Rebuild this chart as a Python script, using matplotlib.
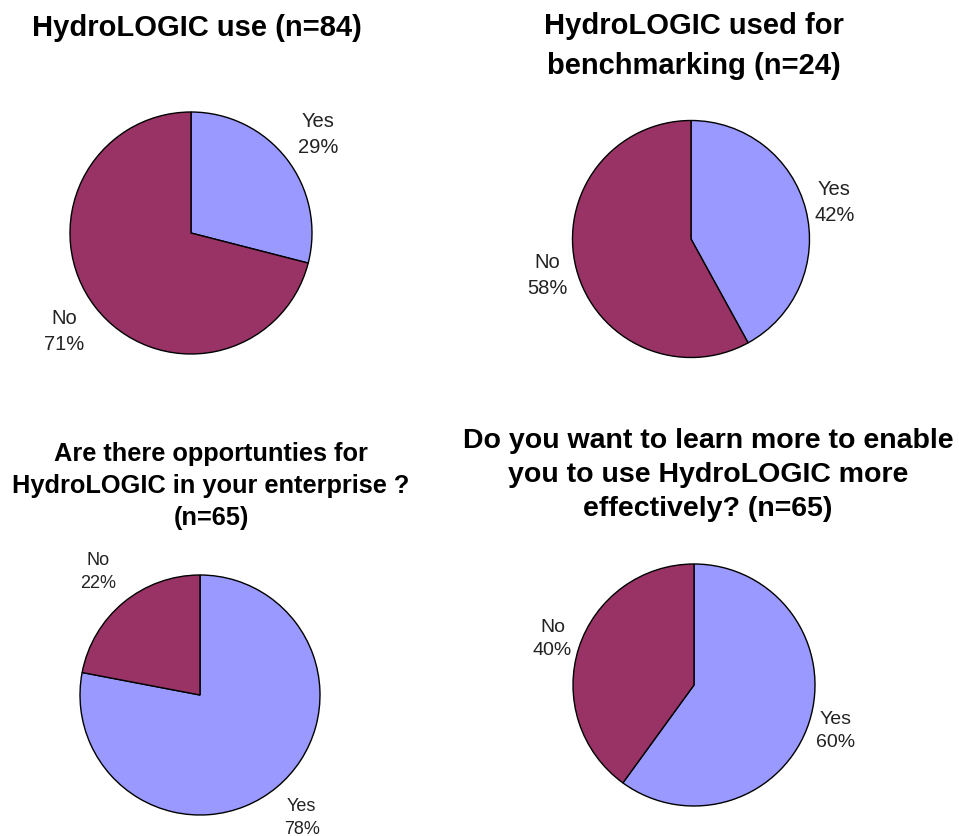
import numpy as np
import matplotlib
matplotlib.use("Agg")
import matplotlib.pyplot as plt

plt.rcParams["font.family"] = ["Liberation Sans", "DejaVu Sans"]

W, H = 959, 836

# ── Data ─────────────────────────────────────────────────────────────────────
titles = [
    "HydroLOGIC use (n=84)",
    "HydroLOGIC used for\nbenchmarking (n=24)",
    "Are there opportunties for\nHydroLOGIC in your enterprise ?\n(n=65)",
    "Do you want to learn more to enable\nyou to use HydroLOGIC more\neffectively? (n=65)",
]
categories = ["Yes", "No"]
use_pct = [29, 71]
benchmark_pct = [42, 58]
opportunity_pct = [78, 22]
learn_pct = [60, 40]
series = [use_pct, benchmark_pct, opportunity_pct, learn_pct]

COLORS = {"Yes": "#9999FF", "No": "#993366"}

# layout in pixels: pie centre x, y, radius / title centre x, y, size, spacing / label
PIES = [
    dict(cx=191, cy=233, r=121, tx=197, ty=28, tsize=21, tls=1.2, lsize=14.5, ldist=1.33),
    dict(cx=691, cy=239, r=118.5, tx=694, ty=46, tsize=21, tls=1.5, lsize=14.5, ldist=1.25),
    dict(cx=200, cy=695, r=120, tx=211, ty=486, tsize=18.3, tls=1.4, lsize=13, ldist=1.33),
    dict(cx=694, cy=685, r=121, tx=708, ty=475, tsize=20.5, tls=1.4, lsize=14, ldist=1.23),
]

fig = plt.figure(figsize=(W / 100, H / 100), dpi=100, facecolor="white")

for title, vals, p in zip(titles, series, PIES):
    cx, cy, r = p["cx"], p["cy"], p["r"]
    ax = fig.add_axes([(cx - r) / W, 1 - (cy + r) / H, 2 * r / W, 2 * r / H])
    labels = [f"{c}\n{v}%" for c, v in zip(categories, vals)]
    wedges, texts = ax.pie(
        vals, labels=labels, colors=[COLORS[c] for c in categories],
        startangle=90, counterclock=False, labeldistance=p["ldist"],
        wedgeprops=dict(edgecolor="black", linewidth=1.0),
        textprops=dict(fontsize=p["lsize"], color="#222222", linespacing=1.45),
    )
    for t in texts:
        t.set_ha("center")
        t.set_va("center")
        t.set_multialignment("center")
    ax.set_xlim(-1, 1)
    ax.set_ylim(-1, 1)
    ax.set_aspect("equal")
    ax.axis("off")

    fig.text(p["tx"] / W, 1 - p["ty"] / H, title, ha="center", va="center",
             fontsize=p["tsize"], fontweight="bold", linespacing=p["tls"],
             multialignment="center", color="black")

fig.savefig("out.png", dpi=100, facecolor="white")
